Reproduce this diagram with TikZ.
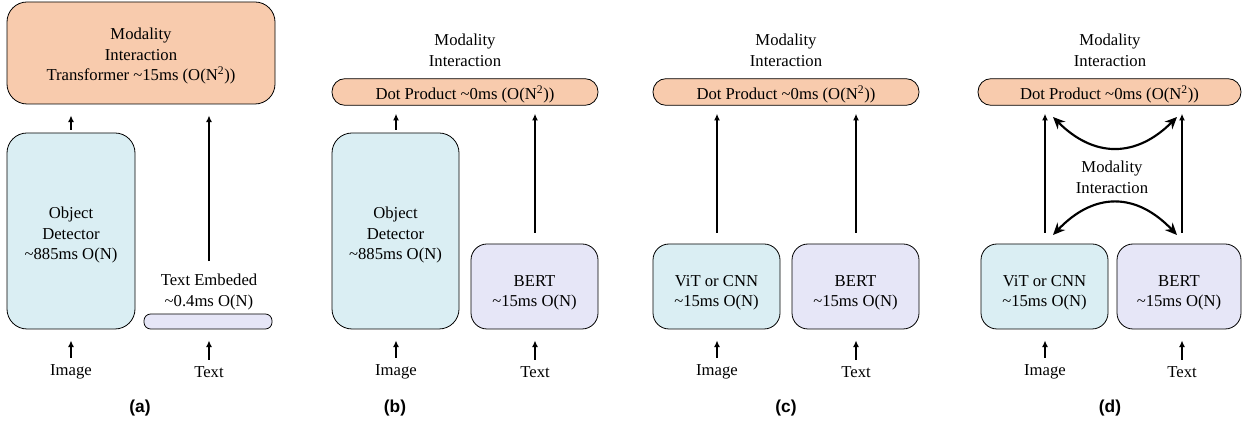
\documentclass[tikz,border=0pt]{standalone}
\usepackage{fontspec}
\setmainfont{Liberation Serif}
\newfontfamily\serifff{Liberation Serif}
\newfontfamily\capfont{Liberation Sans}
\usetikzlibrary{arrows.meta}
\definecolor{orng}{HTML}{F8CBAD}
\definecolor{lblue}{HTML}{DAEEF3}
\definecolor{lavd}{HTML}{E6E6F7}
\newcommand\bxt[2][4.5pt]{\raisebox{0pt}[\dimexpr\height+#1\relax][\depth]{\begin{tabular}{@{}c@{}}#2\end{tabular}}}
\begin{document}
\begin{tikzpicture}[x=0.75pt,y=-0.75pt,
  every node/.style={font=\serifff\fontsize{12.5}{15.5}\selectfont},
  box/.style={draw=black, line width=0.6pt, inner sep=0pt},
  sz/.style 2 args={minimum width=#1*0.75pt, minimum height=#2*0.75pt},
  lbl/.style={inner sep=0pt, align=center},
  captxt/.style={inner sep=0pt, font=\capfont\bfseries\fontsize{13}{15}\selectfont},
  arr/.style={-{Latex[length=5pt,width=4.5pt]}, line width=1.2pt},
  dbl/.style={{Stealth[length=9pt,width=8pt]}-{Stealth[length=9pt,width=8pt]}, line width=1.6pt}]
\useasboundingbox (0,0) rectangle (1242,423);

% ---------- (a)
\node[box, fill=orng, rounded corners=15pt, sz={268}{102}] (ta) at (141,53) {\bxt[4.5pt]{Modality\\Interaction\\Transformer \textasciitilde15ms (O(N\textsuperscript{2}))}};
\node[box, fill=lblue, rounded corners=15pt, sz={128}{196}] (oda) at (71,231) {\bxt[6pt]{Object\\Detector\\\textasciitilde885ms O(N)}};
\node[box, fill=lavd, rounded corners=5pt, sz={128}{15}] (tea) at (208,321.5) {};
\node[lbl] (teal) at (209,292) {Text Embeded\\\textasciitilde0.4ms O(N)};
\node[lbl] (imga) at (71,372) {Image};
\node[lbl] (txta) at (209,372) {Text};
\node[captxt] (capa) at (140,408) {(a)};
\draw[arr, shorten <=5pt, shorten >=8.25pt] (imga.north) -- (imga.north |- oda.south);
\draw[arr, shorten <=2.25pt, shorten >=8.25pt] (imga.north |- oda.north) -- (imga.north |- ta.south);
\draw[arr, shorten <=5pt, shorten >=8.25pt] (txta.north) -- (txta.north |- tea.south);
\draw[arr, shorten <=9.5pt, shorten >=8.25pt] (teal.north) -- (teal.north |- ta.south);

% ---------- (b)
\node[lbl] (hb) at (465,50) {Modality\\Interaction};
\node[box, fill=orng, rounded corners=9.75pt, sz={266}{26}] (db) at (465,92) {\bxt{Dot Product \textasciitilde0ms (O(N\textsuperscript{2}))}};
\node[box, fill=lblue, rounded corners=15pt, sz={127}{196}] (odb) at (395.5,231) {\bxt[6pt]{Object\\Detector\\\textasciitilde885ms O(N)}};
\node[box, fill=lavd, rounded corners=12pt, sz={127}{85}] (bb) at (534.5,286.5) {\bxt[9pt]{BERT\\\textasciitilde15ms O(N)}};
\node[lbl] (imgb) at (396,372) {Image};
\node[lbl] (txtb) at (535,372) {Text};
\node[captxt] (capb) at (395,408) {(b)};
\draw[arr, shorten <=5pt, shorten >=8.25pt] (imgb.north) -- (imgb.north |- odb.south);
\draw[arr, shorten <=5pt, shorten >=8.25pt] (txtb.north) -- (txtb.north |- bb.south);
\draw[arr, shorten <=2.25pt, shorten >=6pt] (imgb.north |- odb.north) -- (imgb.north |- db.south);
\draw[arr, shorten <=8.25pt, shorten >=6pt] (txtb.north |- bb.north) -- (txtb.north |- db.south);

% ---------- (c)
\node[lbl] (hc) at (786,50) {Modality\\Interaction};
\node[box, fill=orng, rounded corners=9.75pt, sz={266}{26}] (dc) at (786,92) {\bxt{Dot Product \textasciitilde0ms (O(N\textsuperscript{2}))}};
\node[box, fill=lblue, rounded corners=12pt, sz={127}{85}] (vc) at (716.5,286.5) {\bxt[9pt]{ViT or CNN\\\textasciitilde15ms O(N)}};
\node[box, fill=lavd, rounded corners=12pt, sz={127}{85}] (bc) at (855.5,286.5) {\bxt[9pt]{BERT\\\textasciitilde15ms O(N)}};
\node[lbl] (imgc) at (717,372) {Image};
\node[lbl] (txtc) at (856,372) {Text};
\node[captxt] (capc) at (786,408) {(c)};
\draw[arr, shorten <=5pt, shorten >=8.25pt] (imgc.north) -- (imgc.north |- vc.south);
\draw[arr, shorten <=5pt, shorten >=8.25pt] (txtc.north) -- (txtc.north |- bc.south);
\draw[arr, shorten <=8.25pt, shorten >=6pt] (imgc.north |- vc.north) -- (imgc.north |- dc.south);
\draw[arr, shorten <=8.25pt, shorten >=6pt] (txtc.north |- bc.north) -- (txtc.north |- dc.south);

% ---------- (d)
\node[lbl] (hd) at (1110,50) {Modality\\Interaction};
\node[box, fill=orng, rounded corners=9.75pt, sz={263}{26}] (dd) at (1109.5,92) {\bxt{Dot Product \textasciitilde0ms (O(N\textsuperscript{2}))}};
\node[box, fill=lblue, rounded corners=12pt, sz={127}{85}] (vd) at (1044.5,286.5) {\bxt[9pt]{ViT or CNN\\\textasciitilde15ms O(N)}};
\node[box, fill=lavd, rounded corners=12pt, sz={124}{85}] (bd) at (1179,286.5) {\bxt[9pt]{BERT\\\textasciitilde15ms O(N)}};
\node[lbl] (md) at (1112,177) {Modality\\Interaction};
\node[lbl] (imgd) at (1045,372) {Image};
\node[lbl] (txtd) at (1182,372) {Text};
\node[captxt] (capd) at (1110,408) {(d)};
\draw[arr, shorten <=5pt, shorten >=8.25pt] (imgd.north) -- (imgd.north |- vd.south);
\draw[arr, shorten <=5pt, shorten >=8.25pt] (txtd.north) -- (txtd.north |- bd.south);
\draw[arr, shorten <=8.25pt, shorten >=6pt] (imgd.north |- vd.north) -- (imgd.north |- dd.south);
\draw[arr, shorten <=8.25pt, shorten >=6pt] (txtd.north |- bd.north) -- (txtd.north |- dd.south);
\coordinate (tl) at (1053,117);
\coordinate (tr) at (1177,117);
\coordinate (bl) at (1053,235);
\coordinate (br) at (1177,235);
\draw[dbl] (tl) .. controls (1094,158) and (1136,158) .. (tr);
\draw[dbl] (bl) .. controls (1094,192) and (1136,192) .. (br);
\end{tikzpicture}
\end{document}
